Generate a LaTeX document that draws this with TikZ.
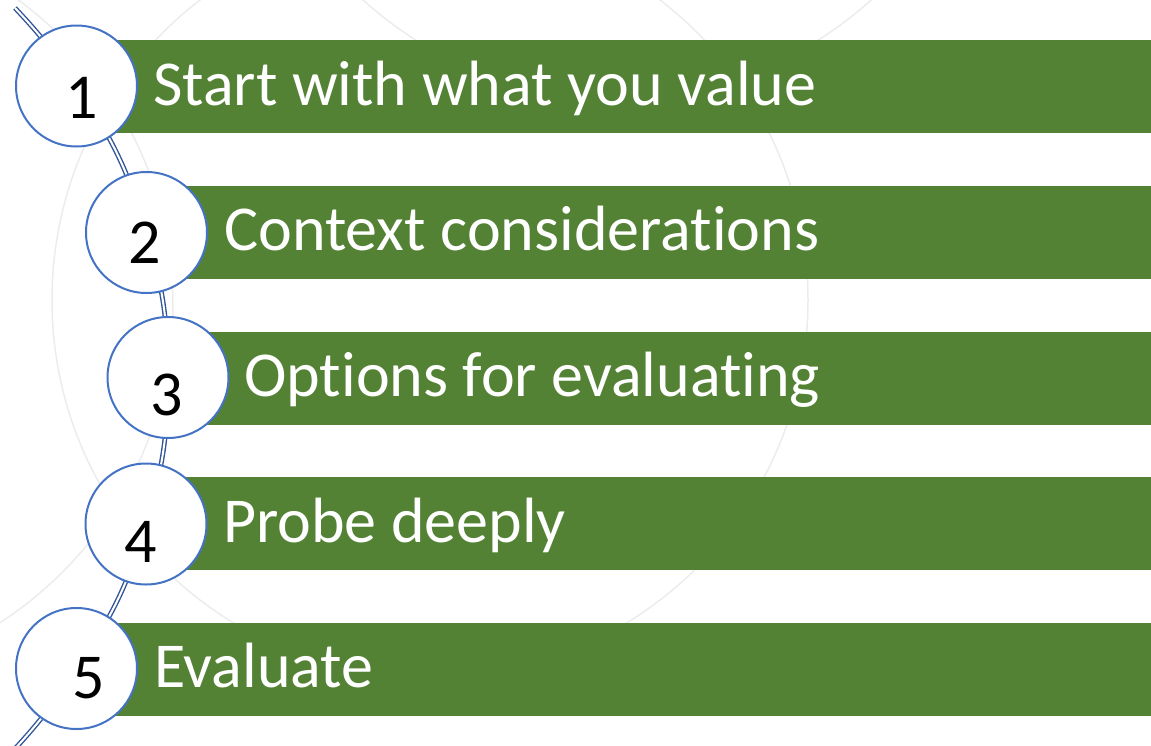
\documentclass[tikz,border=0pt]{standalone}
\usepackage{fontspec}
\setmainfont{Carlito}[Ligatures=NoCommon]
\usetikzlibrary{backgrounds}
\definecolor{barGreen}{RGB}{84,130,53}
\definecolor{ringBlue}{RGB}{68,114,196}
\definecolor{lineBlue}{RGB}{47,85,151}
\definecolor{faintGray}{RGB}{236,236,236}
\begin{document}
\begin{tikzpicture}[x=1pt,y=1pt,
  stepcircle/.style={circle, draw=ringBlue, line width=2pt, fill=white, minimum size=121pt, inner sep=0pt},
  bar/.style={fill=barGreen, draw=none, minimum height=93pt, inner sep=0pt, anchor=west},
  bartext/.style={anchor=base west, inner sep=0pt, text=white, font=\fontsize{64}{70}\selectfont},
  numtext/.style={anchor=base, inner sep=0pt, text=black, font=\fontsize{64}{70}\selectfont},
  conn/.style={draw=lineBlue, line width=1.4pt, double=white, double distance=2pt},
  bgarc/.style={draw=faintGray, line width=1.5pt}]
\useasboundingbox (0,0) rectangle (1151,-745);

% bars
\node[bar, minimum width=1074.5pt] (b1) at (76.5,-86.5) {};
\node[bar, minimum width=1004.5pt] (b2) at (146.5,-232) {};
\node[bar, minimum width=983pt]    (b3) at (168,-378) {};
\node[bar, minimum width=1005pt]   (b4) at (146,-523.5) {};
\node[bar, minimum width=1074.5pt] (b5) at (76.5,-669) {};

% circles
\node[stepcircle] (c1) at (76.5,-86) {};
\node[stepcircle] (c2) at (146.5,-232.5) {};
\node[stepcircle] (c3) at (168,-377.5) {};
\node[stepcircle] (c4) at (146,-524) {};
\node[stepcircle] (c5) at (76.5,-668.5) {};

% numbers
\node[numtext] (n1) at (82,-118) {1};
\node[numtext] (n2) at (145,-263) {2};
\node[numtext] (n3) at (167,-415) {3};
\node[numtext] (n4) at (141,-562) {4};
\node[numtext] (n5) at (88.5,-698) {5};

% texts
\node[bartext] (t1) at (153,-105) {Start with what you value};
\node[bartext] (t2) at (224,-250.5) {Context considerations};
\node[bartext] (t3) at (244,-396.5) {Options for evaluating};
\node[bartext] (t4) at (223,-542) {Probe deeply};
\node[bartext] (t5) at (154,-687.5) {Evaluate};

\coordinate (top) at (15,-8);
\coordinate (bottom) at (12,-752);

\begin{pgfonlayer}{background}
  \begin{scope}
    \clip (0,0) rectangle (1151,-745);
    \draw[bgarc] (430,-300) circle[radius=378];
    \draw[bgarc] (-205,-305) circle[radius=378];
    \draw[bgarc] (617,280) circle[radius=378];
    \draw[conn] (top) to[bend left=5] (c1.center);
    \draw[conn] (c1.center) to[bend left=9] (c2.center);
    \draw[conn] (c2.center) to[bend left=8.3] (c3.center);
    \draw[conn] (c3.center) to[bend left=8.3] (c4.center);
    \draw[conn] (c4.center) to[bend left=9] (c5.center);
    \draw[conn] (c5.center) to[bend left=5] (bottom);
  \end{scope}
\end{pgfonlayer}
\end{tikzpicture}
\end{document}
